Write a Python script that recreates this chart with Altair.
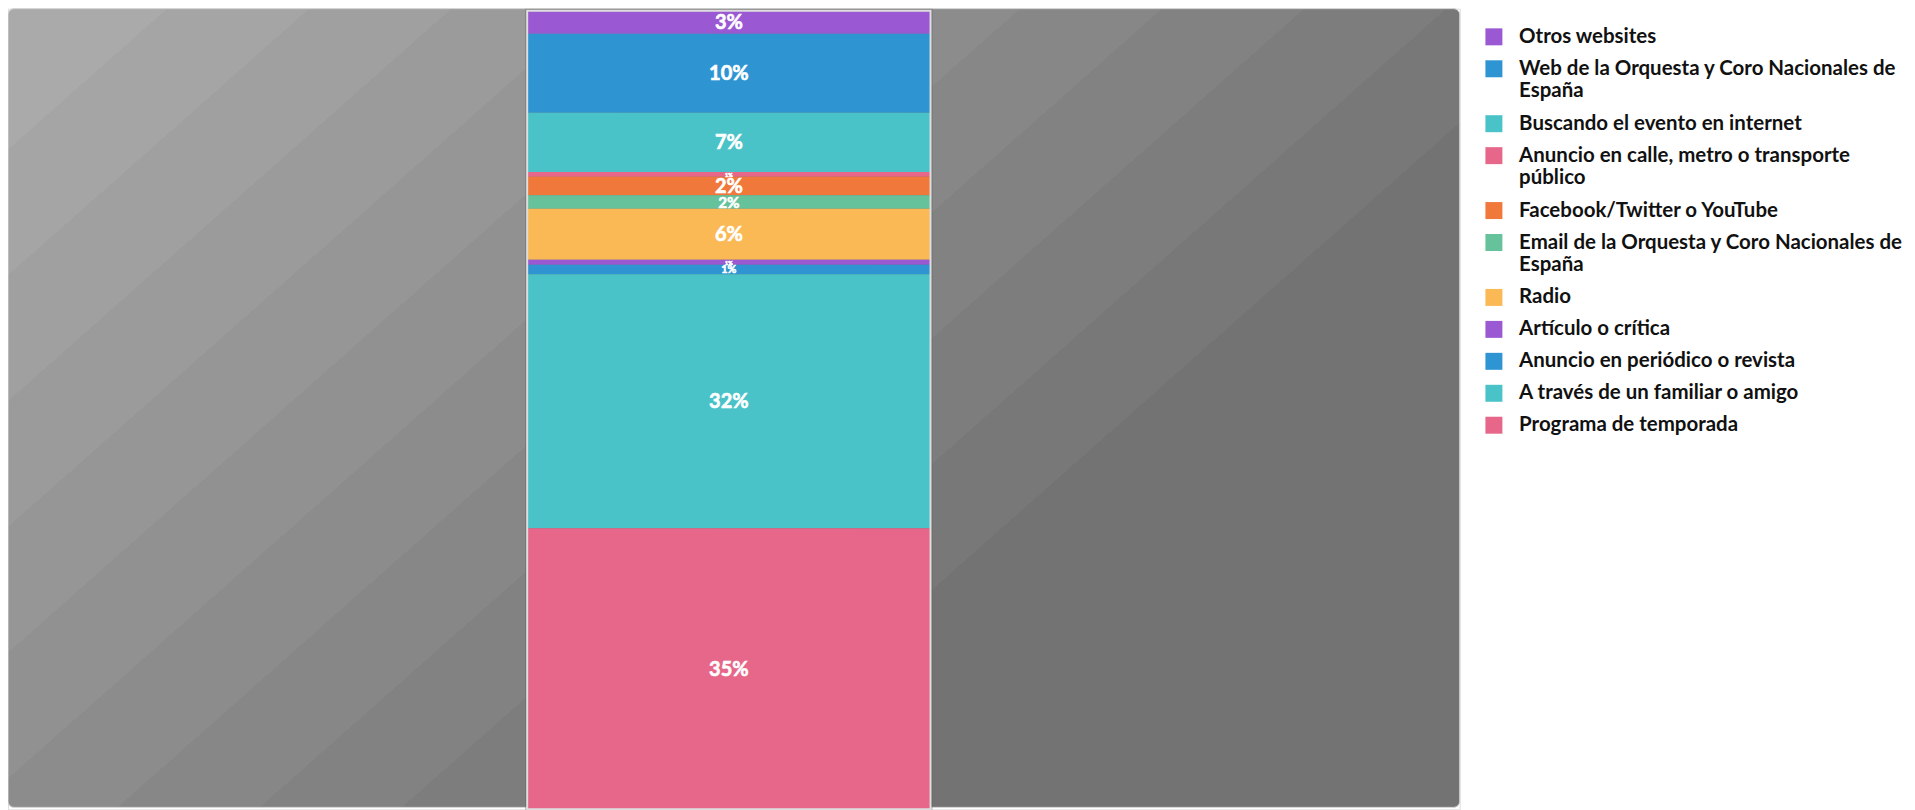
import altair as alt
import pandas as pd

# ---- data (percent of respondents) ----
categories = [
    "Otros websites",
    "Web de la Orquesta y Coro Nacionales de España",
    "Buscando el evento en internet",
    "Anuncio en calle, metro o transporte público",
    "Facebook/Twitter o YouTube",
    "Email de la Orquesta y Coro Nacionales de España",
    "Radio",
    "Artículo o crítica",
    "Anuncio en periódico o revista",
    "A través de un familiar o amigo",
    "Programa de temporada",
]
values = [2.9, 9.9, 7.4, 0.6, 2.3, 1.7, 6.4, 0.6, 1.2, 31.8, 35.2]
colors = [
    "#9b58d3", "#2e94d2", "#49c2c8", "#e6678a", "#ef783a", "#66c29a",
    "#fab955", "#9b58d3", "#2e94d2", "#49c2c8", "#e6678a",
]

df = pd.DataFrame({
    "grp": ["total"] * len(categories),
    "cat": categories,
    "value": values,
    "order": list(range(len(categories) - 1, -1, -1)),  # bottom segment first
})

# ---- layout ----
W, H = 1454, 802
BAR_RANGE_X = [520, 924]
BAR_RANGE_Y = [802, 2]

# stepped diagonal gradient for the panel background
band_greys = [170, 165, 160, 155, 150, 145, 140, 135, 130, 125, 120, 115]
c_max = 0.885 * W + 800
bounds = [(141 + 126 * j) / c_max for j in range(11)]
stops = []
edges = [0.0] + bounds + [1.0]
for k, g in enumerate(band_greys):
    col = "#%02x%02x%02x" % (g, g, g)
    stops.append({"offset": max(0.0, min(1.0, edges[k])), "color": col})
    stops.append({"offset": max(0.0, min(1.0, edges[k + 1])), "color": col})
kk = c_max / ((0.885 * W) ** 2 + 800 ** 2)
gradient = alt.LinearGradient(
    gradient="linear", stops=stops, x1=0, y1=0,
    x2=kk * 0.885 * W, y2=kk * 800,
)

panel = alt.Chart(pd.DataFrame({"p": [0]})).mark_rect(
    cornerRadius=6, stroke="#d4d4d4", strokeWidth=1, fill=gradient
).encode(x=alt.value(0), x2=alt.value(W), y=alt.value(0), y2=alt.value(800))

xenc = alt.X("grp:N", axis=None,
             scale=alt.Scale(range=BAR_RANGE_X, paddingInner=0, paddingOuter=0))
yscale = alt.Scale(domain=[0, 100], range=BAR_RANGE_Y)

base = alt.Chart(df)

shadow = base.mark_bar(fill="#555555", opacity=0.35, stroke="#555555",
                       strokeWidth=4).encode(
    x=xenc, y=alt.Y("sum(value):Q", axis=None, scale=yscale)
)

label_expr = (
    "split(replace(replace(datum.label, 'de España', 'de|España'), "
    "'transporte público', 'transporte|público'), '|')"
)

bars = base.mark_bar().encode(
    x=xenc,
    y=alt.Y("value:Q", stack="zero", axis=None, scale=yscale),
    color=alt.Color(
        "cat:N",
        scale=alt.Scale(domain=categories, range=colors),
        legend=alt.Legend(
            title=None, orient="none", legendX=1478, legendY=18,
            symbolType="square", symbolSize=289, symbolStrokeWidth=0,
            symbolOpacity=1,
            labelFont="Lato", labelFontWeight="bold", labelFontSize=20.5,
            labelColor="#111111", labelOffset=15, labelLimit=600,
            rowPadding=11, padding=0, gridAlign="each",
            labelExpr=label_expr,
        ),
    ),
    order=alt.Order("order:Q"),
)

outline = base.mark_bar(fillOpacity=0, stroke="#dedede", strokeWidth=2).encode(
    x=xenc, y=alt.Y("sum(value):Q", axis=None, scale=yscale)
)

labels = base.transform_stack(
    stack="value", groupby=["grp"], as_=["v0", "v1"],
    sort=[alt.SortField("order", order="ascending")],
).transform_calculate(
    mid="(datum.v0 + datum.v1) / 2",
    lbl="format(datum.value, '.0f') + '%'",
    fs="min(20, max(5, datum.value * 9))",
).mark_text(
    color="white", fontWeight="bold", font="Lato", baseline="middle",
    stroke="white", strokeWidth=0.6, dy=1,
).encode(
    x=xenc,
    y=alt.Y("mid:Q", axis=None, scale=yscale),
    text="lbl:N",
    size=alt.Size("fs:Q", scale=None, legend=None),
)

chart = alt.layer(panel, shadow, bars, outline, labels).properties(
    width=W, height=H,
    autosize=alt.AutoSizeParams(type="none"),
    padding={"left": 0, "top": 0, "right": 448, "bottom": 0},
).configure_view(stroke=None).configure(background="white")

chart.save("out.html", embed_options={"renderer": "svg", "actions": False})
